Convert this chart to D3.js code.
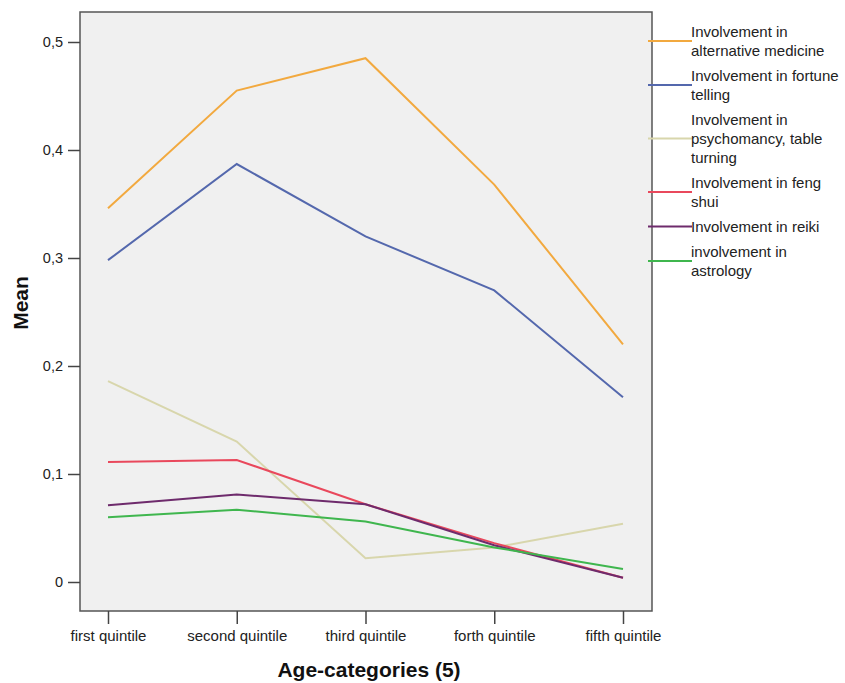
<!DOCTYPE html>
<html><head><meta charset="utf-8">
<script src="https://cdn.jsdelivr.net/npm/d3@7"></script>
<style>body{margin:0;background:#fff;} svg{display:block;}</style>
</head><body>
<svg id="c" width="845" height="683"></svg>
<script>
const categories = ["first quintile","second quintile","third quintile","forth quintile","fifth quintile"];
const altMedicine = [0.346,0.455,0.485,0.368,0.220];
const fortuneTelling = [0.298,0.387,0.320,0.270,0.171];
const psychomancy = [0.186,0.130,0.022,0.032,0.054];
const fengShui = [0.111,0.113,0.072,0.036,0.004];
const reiki = [0.071,0.081,0.072,0.034,0.004];
const astrology = [0.060,0.067,0.056,0.032,0.012];
const yTicks = [0,0.1,0.2,0.3,0.4,0.5];
const seriesNames = [
  ["Involvement in","alternative medicine"],
  ["Involvement in fortune","telling"],
  ["Involvement in","psychomancy, table","turning"],
  ["Involvement in feng","shui"],
  ["Involvement in reiki"],
  ["involvement in","astrology"]
];
const seriesValues = [altMedicine,fortuneTelling,psychomancy,fengShui,reiki,astrology];
const colors = ["#f2a93f","#5468ad","#d8d6ac","#e9485c","#6e2b6c","#3fb64e"];

const svg = d3.select("#c");
const font = "Arial, 'Liberation Sans', sans-serif";
const L=80,R=652,T=12,B=611;
const x = d3.scalePoint().domain(categories).range([108,623]);
const y = d3.scaleLinear().domain([0,0.5]).range([582,42]);

svg.append("rect").attr("x",L).attr("y",T).attr("width",R-L).attr("height",B-T)
  .attr("fill","#f0f0f0").attr("stroke","#555").attr("stroke-width",1.5);

const yAxis = svg.append("g").attr("transform",`translate(${L},0)`)
  .call(d3.axisLeft(y).tickValues(yTicks).tickSize(12).tickPadding(5)
    .tickFormat(d=>d===0?"0":d3.format(".1f")(d).replace(".",",")));
yAxis.select(".domain").remove();
yAxis.selectAll("line").attr("stroke","#444").attr("stroke-width",1.5);
yAxis.selectAll("text").attr("font-family",font).attr("font-size",14.5).attr("fill","#222");

const xAxis = svg.append("g").attr("transform",`translate(0,${B})`)
  .call(d3.axisBottom(x).tickSize(13).tickPadding(6));
xAxis.select(".domain").remove();
xAxis.selectAll("line").attr("stroke","#444").attr("stroke-width",1.5);
xAxis.selectAll("text").attr("font-family",font).attr("font-size",15).attr("fill","#222");

const line = d3.line().x((d,i)=>x(categories[i])).y(d=>y(d));
seriesValues.forEach((vals,k)=>{
  svg.append("path").datum(vals).attr("d",line).attr("fill","none")
    .attr("stroke",colors[k]).attr("stroke-width",2);
});

// legend
let cy = 22;
const lh = 19;
seriesNames.forEach((lines,k)=>{
  const h = lines.length*lh;
  const mid = cy + h/2;
  svg.append("line").attr("x1",648).attr("x2",692).attr("y1",mid).attr("y2",mid)
    .attr("stroke",colors[k]).attr("stroke-width",2);
  lines.forEach((t,j)=>{
    svg.append("text").attr("x",691).attr("y",cy + lh*j + lh/2).attr("dy","0.35em")
      .attr("font-family",font).attr("font-size",15).attr("fill","#222").text(t);
  });
  cy += h + 6;
});

svg.append("text").attr("x",369).attr("y",670).attr("dy","0.35em").attr("text-anchor","middle")
  .attr("font-family",font).attr("font-size",21).attr("font-weight","bold").attr("fill","#111")
  .text("Age-categories (5)");
svg.append("text").attr("transform","translate(21,303) rotate(-90)").attr("dy","0.35em")
  .attr("text-anchor","middle").attr("font-family",font).attr("font-size",21)
  .attr("font-weight","bold").attr("fill","#111").text("Mean");
</script>
</body></html>
